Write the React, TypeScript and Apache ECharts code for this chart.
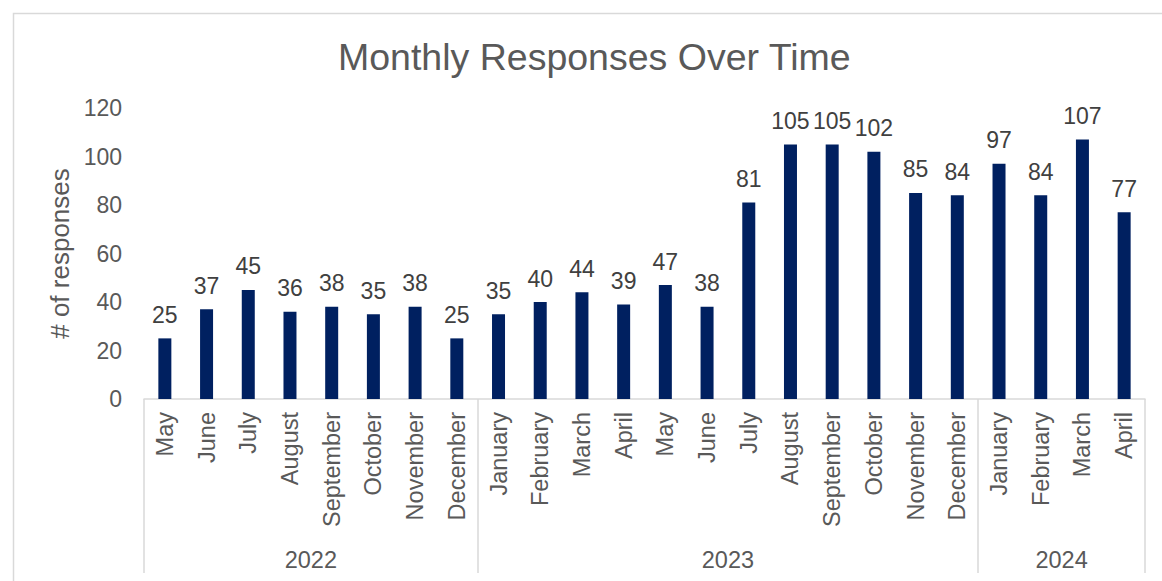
import React, { useEffect, useRef } from "react";
import * as echarts from "echarts";

const months = [
  "May", "June", "July", "August", "September", "October", "November", "December",
  "January", "February", "March", "April", "May", "June", "July", "August", "September", "October", "November", "December",
  "January", "February", "March", "April",
];
const responses = [25, 37, 45, 36, 38, 35, 38, 25, 35, 40, 44, 39, 47, 38, 81, 105, 105, 102, 85, 84, 97, 84, 107, 77];
const years = ["2022", "2023", "2024"];
const yearCounts = [8, 12, 4];
const yTicks = [0, 20, 40, 60, 80, 100, 120];

const FONT = "Liberation Sans, Arial, sans-serif";
const GREY = "#595959";

export default function App() {
  const ref = useRef<HTMLDivElement>(null);
  useEffect(() => {
    document.body.style.margin = "0";
    if (!ref.current) return;
    const chart = echarts.init(ref.current, undefined, { renderer: "svg" });
    const bounds: number[] = [];
    const centres: Record<number, string> = {};
    let acc = 0;
    yearCounts.forEach((c, i) => {
      bounds.push(acc);
      centres[acc + c / 2] = years[i];
      acc += c;
    });
    chart.setOption({
      animation: false,
      textStyle: { fontFamily: FONT },
      title: {
        text: "Monthly Responses Over Time",
        left: 333,
        top: 33,
        textStyle: { fontFamily: FONT, fontSize: 37.5, fontWeight: "normal", color: GREY },
      },
      graphic: [
        {
          type: "rect",
          left: 11,
          top: 11,
          shape: { width: 1200, height: 620 },
          style: { fill: "none", stroke: "#d9d9d9", lineWidth: 1.5 },
          silent: true,
        },
      ],
      grid: { left: 144, right: 17, top: 108, bottom: 182 },
      xAxis: [
        {
          type: "category",
          data: months,
          position: "bottom",
          axisLine: { show: true, lineStyle: { color: "#d9d9d9", width: 1.5 } },
          axisTick: {
            show: true,
            length: 174,
            interval: (idx: number) => bounds.includes(idx),
            lineStyle: { color: "#d9d9d9", width: 1.5 },
          },
          axisLabel: {
            interval: 0,
            rotate: 90,
            margin: 13,
            fontSize: 23.5,
            color: GREY,
            fontFamily: FONT,
          },
          splitLine: { show: false },
        },
        {
          type: "value",
          min: 0,
          max: acc,
          interval: 1,
          position: "bottom",
          axisLine: { show: false },
          axisTick: { show: false },
          splitLine: { show: false },
          axisLabel: {
            margin: 149,
            fontSize: 23.5,
            color: GREY,
            fontFamily: FONT,
            showMinLabel: false,
            showMaxLabel: false,
            formatter: (v: number) => centres[v] ?? "",
          },
        },
      ],
      yAxis: {
        type: "value",
        min: yTicks[0],
        max: yTicks[yTicks.length - 1],
        interval: yTicks[1] - yTicks[0],
        name: "# of responses",
        nameLocation: "middle",
        nameGap: 69,
        nameTextStyle: { fontSize: 26, color: GREY, fontFamily: FONT },
        axisLine: { show: false },
        axisTick: { show: false },
        splitLine: { show: false },
        axisLabel: { fontSize: 23, color: GREY, margin: 22, fontFamily: FONT },
      },
      series: [
        {
          type: "bar",
          data: responses,
          xAxisIndex: 0,
          barWidth: 13,
          itemStyle: { color: "#002060" },
          label: {
            show: true,
            position: "top",
            distance: 12,
            fontSize: 23,
            color: "#404040",
            fontFamily: FONT,
          },
        },
      ],
    });
    return () => chart.dispose();
  }, []);
  return <div ref={ref} style={{ width: 1162, height: 581 }} />;
}
